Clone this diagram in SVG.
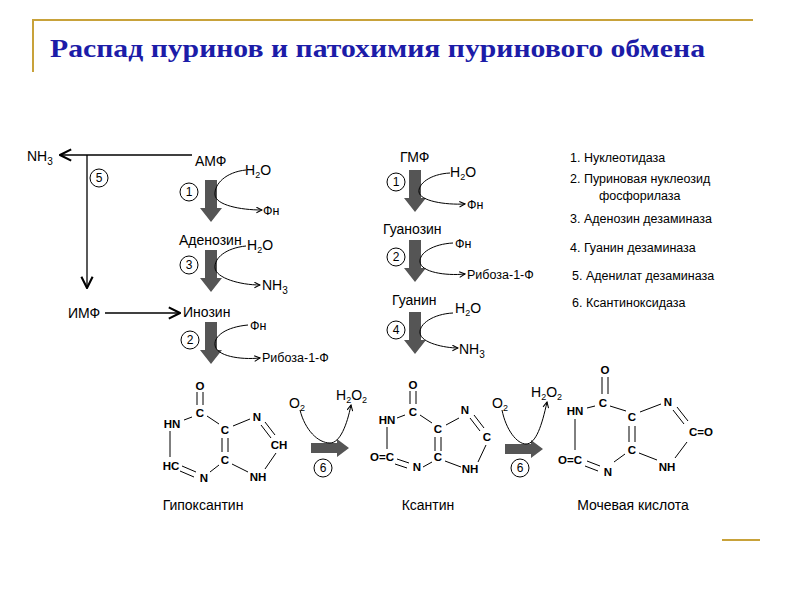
<svg xmlns="http://www.w3.org/2000/svg" width="800" height="600" viewBox="0 0 800 600">
<defs>
<marker id="oa" viewBox="0 0 10 10" refX="9" refY="5" markerWidth="7" markerHeight="7" orient="auto" markerUnits="userSpaceOnUse"><path d="M1,1 L9,5 L1,9" fill="none" stroke="#000" stroke-width="1.5"/></marker>
<marker id="ob" viewBox="0 0 10 10" refX="9" refY="5" markerWidth="14" markerHeight="14" orient="auto" markerUnits="userSpaceOnUse"><path d="M1,1 L9,5 L1,9" fill="none" stroke="#000" stroke-width="1.5"/></marker>
<polygon id="blk" points="-6,0 6,0 6,28 11,28 0,42 -11,28 -6,28" fill="#555"/>
<polygon id="blkh" points="0,-5 26,-5 26,-9 38,0 26,9 26,5 0,5" fill="#555"/>
</defs>
<style>
text{font-family:"Liberation Sans",Arial,sans-serif;font-size:14px;fill:#000}
.s{font-size:12.5px}
.a{font-size:11.5px;font-weight:bold;text-anchor:middle;dominant-baseline:central}
.c{fill:none;stroke:#000;stroke-width:1}
.l{stroke:#000;stroke-width:1.3;fill:none}
.b{stroke:#000;stroke-width:1;fill:none}
.cir{fill:#fff;stroke:#000;stroke-width:1}
.n{font-size:12px;text-anchor:middle;dominant-baseline:central}
</style>
<rect width="800" height="600" fill="#fff"/>
<g id="frame">
<line x1="32" y1="20" x2="753" y2="20" stroke="#c8a23a" stroke-width="2"/>
<line x1="33" y1="20" x2="33" y2="72" stroke="#c8a23a" stroke-width="2"/>
<line x1="722" y1="540" x2="760" y2="540" stroke="#c8a23a" stroke-width="2"/>
<text x="50" y="57" textLength="655" lengthAdjust="spacingAndGlyphs" style="font-family:'Liberation Serif',serif;font-size:25px;font-weight:bold;fill:#1c1ca8">Распад пуринов и патохимия пуринового обмена</text>
</g>
<g id="connectors">
<line class="l" x1="192" y1="155" x2="60" y2="155" marker-end="url(#ob)"/>
<line class="l" x1="87" y1="155" x2="87" y2="288" marker-end="url(#ob)"/>
<line class="l" x1="105" y1="313" x2="180" y2="313" marker-end="url(#ob)"/>
<use href="#blk" x="211" y="180"/>
<use href="#blk" x="211" y="250"/>
<use href="#blk" x="211" y="322"/>
<use href="#blk" x="415" y="170"/>
<use href="#blk" x="415" y="240"/>
<use href="#blk" x="415" y="312"/>
<path class="c" d="M246,170 C226,172 214,184 215,195 C216,205 240,210 262,210" marker-end="url(#oa)"/>
<path class="c" d="M246,246 C226,248 214,258 215,268 C216,278 240,285 260,285" marker-end="url(#oa)"/>
<path class="c" d="M248,325 C226,327 214,336 215,345 C216,356 240,360 260,358" marker-end="url(#oa)"/>
<path class="c" d="M450,173 C430,174 418,184 419,192 C420,201 445,205 465,204" marker-end="url(#oa)"/>
<path class="c" d="M453,243 C433,244 419,253 420,262 C421,272 445,276 465,274" marker-end="url(#oa)"/>
<path class="c" d="M453,313 C433,314 419,324 420,333 C421,343 445,348 458,348" marker-end="url(#oa)"/>
<use href="#blkh" x="311" y="448"/>
<use href="#blkh" x="505" y="449"/>
<path class="c" d="M300,410 C305,430 318,443 330,443 C340,443 347,425 351,405" marker-end="url(#oa)"/>
<path class="c" d="M502,410 C506,430 517,444 526,444 C536,444 542,425 547,402" marker-end="url(#oa)"/>
</g>
<g id="labels">
<text x="27" y="161">NH<tspan dy="4" font-size="10">3</tspan></text>
<text x="195" y="166">АМФ</text>
<circle class="cir" cx="99" cy="178" r="9"/><text class="n" x="99" y="178">5</text>
<circle class="cir" cx="189" cy="192" r="9"/><text class="n" x="189" y="192">1</text>
<text x="245" y="175">H<tspan dy="3" font-size="9">2</tspan><tspan dy="-3">O</tspan></text>
<text x="263" y="215" class="s">Фн</text>
<text x="179" y="245">Аденозин</text>
<text x="247" y="250">H<tspan dy="3" font-size="9">2</tspan><tspan dy="-3">O</tspan></text>
<circle class="cir" cx="189" cy="265" r="9"/><text class="n" x="189" y="265">3</text>
<text x="262" y="290">NH<tspan dy="4" font-size="10">3</tspan></text>
<text x="68" y="318">ИМФ</text>
<text x="183" y="317">Инозин</text>
<text x="250" y="330" class="s">Фн</text>
<circle class="cir" cx="190" cy="340" r="9"/><text class="n" x="190" y="340">2</text>
<text x="262" y="362" class="s">Рибоза-1-Ф</text>

<text x="400" y="162">ГМФ</text>
<circle class="cir" cx="396" cy="182" r="9"/><text class="n" x="396" y="182">1</text>
<text x="450" y="177">H<tspan dy="3" font-size="9">2</tspan><tspan dy="-3">O</tspan></text>
<text x="467" y="209" class="s">Фн</text>
<text x="383" y="234">Гуанозин</text>
<text x="455" y="248" class="s">Фн</text>
<circle class="cir" cx="396" cy="257" r="9"/><text class="n" x="396" y="257">2</text>
<text x="467" y="279" class="s">Рибоза-1-Ф</text>
<text x="392" y="305">Гуанин</text>
<text x="455" y="313">H<tspan dy="3" font-size="9">2</tspan><tspan dy="-3">O</tspan></text>
<circle class="cir" cx="396" cy="330" r="9"/><text class="n" x="396" y="330">4</text>
<text x="459" y="354">NH<tspan dy="4" font-size="10">3</tspan></text>

<text x="289" y="408">O<tspan dy="3" font-size="9">2</tspan></text>
<text x="336" y="400">H<tspan dy="3" font-size="9">2</tspan><tspan dy="-3">O</tspan><tspan dy="3" font-size="9">2</tspan></text>
<circle class="cir" cx="323" cy="468" r="9"/><text class="n" x="323" y="468">6</text>
<text x="492" y="408">O<tspan dy="3" font-size="9">2</tspan></text>
<text x="531" y="397">H<tspan dy="3" font-size="9">2</tspan><tspan dy="-3">O</tspan><tspan dy="3" font-size="9">2</tspan></text>
<circle class="cir" cx="520" cy="468" r="9"/><text class="n" x="520" y="468">6</text>
</g>
<g id="legend" class="s">
<text x="570" y="162" class="s">1. Нуклеотидаза</text>
<text x="570" y="183" class="s">2. Пуриновая  нуклеозид</text>
<text x="599" y="200" class="s">фосфорилаза</text>
<text x="570" y="223" class="s">3. Аденозин дезаминаза</text>
<text x="570" y="252" class="s">4. Гуанин дезаминаза</text>
<text x="572" y="280" class="s">5. Аденилат дезаминаза</text>
<text x="572" y="307" class="s">6. Ксантиноксидаза</text>
</g>
<g id="hypoxanthine">
<text class="a" x="200" y="386">O</text>
<line class="b" x1="197" y1="392" x2="197" y2="405"/><line class="b" x1="203" y1="392" x2="203" y2="405"/>
<text class="a" x="200" y="413">C</text>
<text class="a" x="172" y="424">HN</text>
<line class="b" x1="192" y1="417" x2="184" y2="420"/>
<line class="b" x1="207" y1="416" x2="219" y2="424"/>
<text class="a" x="225" y="430">C</text>
<line class="b" x1="233" y1="426" x2="250" y2="419"/>
<text class="a" x="257" y="417">N</text>
<line class="b" x1="261" y1="425" x2="271" y2="438"/><line class="b" x1="265" y1="422" x2="275" y2="435"/>
<text class="a" x="279" y="445">CH</text>
<line class="b" x1="222" y1="438" x2="222" y2="452"/><line class="b" x1="228" y1="438" x2="228" y2="452"/>
<text class="a" x="225" y="460">C</text>
<line class="b" x1="232" y1="464" x2="248" y2="472"/>
<text class="a" x="258" y="477">NH</text>
<line class="b" x1="265" y1="469" x2="276" y2="453"/>
<line class="b" x1="219" y1="465" x2="210" y2="472"/>
<text class="a" x="204" y="478">N</text>
<line class="b" x1="196" y1="472" x2="182" y2="466"/><line class="b" x1="194" y1="477" x2="180" y2="471"/>
<text class="a" x="171" y="466">HC</text>
<line class="b" x1="170" y1="431" x2="170" y2="457"/>
<text x="203" y="510" text-anchor="middle">Гипоксантин</text>
</g>
<g id="xanthine" transform="translate(213,-1)">
<text class="a" x="200" y="386">O</text>
<line class="b" x1="197" y1="392" x2="197" y2="405"/><line class="b" x1="203" y1="392" x2="203" y2="405"/>
<text class="a" x="200" y="413">C</text>
<text class="a" x="174" y="421">HN</text>
<line class="b" x1="192" y1="416" x2="184" y2="419"/>
<line class="b" x1="207" y1="416" x2="219" y2="424"/>
<text class="a" x="225" y="430">C</text>
<line class="b" x1="233" y1="426" x2="246" y2="419"/>
<text class="a" x="252" y="411">N</text>
<line class="b" x1="257" y1="419" x2="267" y2="432"/><line class="b" x1="261" y1="416" x2="271" y2="429"/>
<text class="a" x="274" y="438">C</text>
<line class="b" x1="222" y1="438" x2="222" y2="452"/><line class="b" x1="228" y1="438" x2="228" y2="452"/>
<text class="a" x="225" y="458">C</text>
<line class="b" x1="232" y1="462" x2="248" y2="468"/>
<text class="a" x="257" y="470">NH</text>
<line class="b" x1="265" y1="463" x2="273" y2="446"/>
<line class="b" x1="219" y1="463" x2="210" y2="468"/>
<text class="a" x="204" y="468">N</text>
<line class="b" x1="196" y1="464" x2="184" y2="460"/><line class="b" x1="194" y1="469" x2="182" y2="465"/>
<text class="a" x="169" y="458">O=C</text>
<line class="b" x1="174" y1="428" x2="174" y2="450"/>
<text x="215" y="511" text-anchor="middle">Ксантин</text>
</g>
<g id="uricacid" transform="translate(403,-10)">
<text class="a" x="202" y="380">O</text>
<line class="b" x1="199" y1="387" x2="199" y2="404"/><line class="b" x1="205" y1="387" x2="205" y2="404"/>
<text class="a" x="200" y="413">C</text>
<text class="a" x="172" y="421">HN</text>
<line class="b" x1="192" y1="416" x2="184" y2="418"/>
<line class="b" x1="207" y1="416" x2="223" y2="421"/>
<text class="a" x="229" y="427">C</text>
<line class="b" x1="237" y1="422" x2="258" y2="414"/>
<text class="a" x="265" y="412">N</text>
<line class="b" x1="270" y1="420" x2="281" y2="434"/><line class="b" x1="274" y1="417" x2="285" y2="431"/>
<text class="a" x="298" y="442">C=O</text>
<line class="b" x1="226" y1="436" x2="226" y2="452"/><line class="b" x1="232" y1="436" x2="232" y2="452"/>
<text class="a" x="229" y="460">C</text>
<line class="b" x1="236" y1="463" x2="254" y2="470"/>
<text class="a" x="264" y="477">NH</text>
<line class="b" x1="272" y1="468" x2="284" y2="452"/>
<line class="b" x1="222" y1="464" x2="211" y2="472"/>
<text class="a" x="205" y="482">N</text>
<line class="b" x1="197" y1="476" x2="184" y2="471"/><line class="b" x1="195" y1="481" x2="182" y2="476"/>
<text class="a" x="167" y="470">O=C</text>
<line class="b" x1="172" y1="429" x2="172" y2="460"/>
<text x="230" y="520" text-anchor="middle">Мочевая кислота</text>
</g>
</svg>
